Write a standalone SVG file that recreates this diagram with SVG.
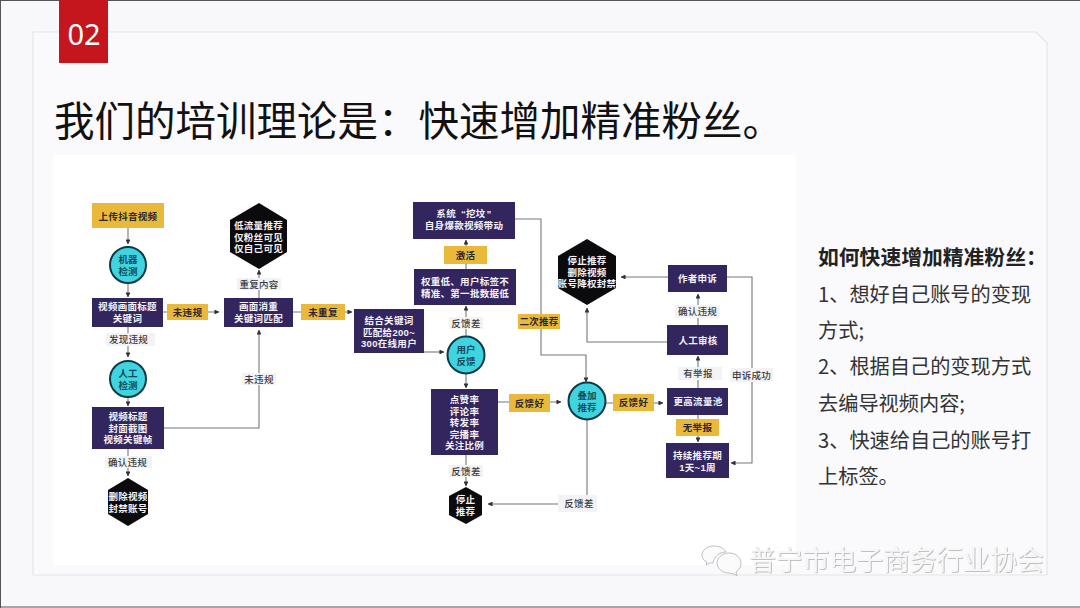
<svg xmlns="http://www.w3.org/2000/svg" width="1080" height="608" viewBox="0 0 1080 608">
<style>
text{font-family:"Noto Sans CJK SC","Noto Sans",sans-serif;text-anchor:middle}
.box{fill:#33265f}
.tag{fill:#e8b93a}
.lab{fill:#f3f3f5}
.cir{fill:#3fd4e0;stroke:#0d3a48;stroke-width:2}
.hex{fill:#0b0a0d}
.w,.d,.c,.g{font-family:"Liberation Sans","Noto Sans CJK SC",sans-serif;font-size:9.500px;font-weight:700}
.w{fill:#f4f2f7;letter-spacing:.3px}
.d{fill:#2c2733;letter-spacing:.3px}
.c{fill:#0f4a5c}
.g{fill:#3a3a3e;font-weight:500;letter-spacing:.3px}
.ln{fill:none;stroke:#77777c;stroke-width:1.100;marker-end:url(#a)}
.side{fill:#333;font-size:20.200px;text-anchor:start}
</style>
<defs>
<marker id="a" viewBox="0 0 6 6" refX="5.500" refY="3" markerWidth="4.500" markerHeight="4.500" orient="auto"><path d="M0 0L6 3L0 6z" fill="#333"/></marker>
<filter id="emb" x="-5%" y="-20%" width="110%" height="140%"><feDropShadow dx="0.7" dy="0.7" stdDeviation="0.3" flood-color="#a8a8a8"/></filter>
</defs>

<rect width="1080" height="608" fill="#f8f8fa"/>
<path d="M0 .5H1080M.5 0V608M0 607H1080" fill="none" stroke="#555" stroke-width="1"/>
<path d="M33 32H1036L1047 43V575H33z" fill="#fafafc" stroke="#e6e6e8" stroke-width="1.200"/>
<rect x="53" y="155" width="743" height="410" fill="#fff"/>

<g id="badge"><rect x="59" y="0" width="49" height="63" fill="#c4161c"/><text x="84" y="45" fill="#fff" font-size="29" style="font-family:'Noto Sans',sans-serif">02</text></g>
<text id="title" x="54" y="136" font-size="40.500" fill="#111" style="text-anchor:start">我们的培训理论是：快速增加精准粉丝。</text>

<g id="connectors">
<path class="ln" d="M128 228V244"/>
<path class="ln" d="M128 283V297"/>
<path class="ln" d="M163 312H219"/>
<path class="ln" d="M293 312H352"/>
<path class="ln" d="M259 298V270"/>
<path class="ln" d="M128 327V357"/>
<path class="ln" d="M128 397V406"/>
<path class="ln" d="M128 449V476"/>
<path class="ln" d="M164 428H259V330"/>
<path class="ln" d="M424 352H444"/>
<path class="ln" d="M466 336V306"/>
<path class="ln" d="M466 269V240"/>
<path class="ln" d="M466 374V388"/>
<path class="ln" d="M498 402H561"/>
<path class="ln" d="M466 455V486"/>
<path class="ln" d="M515 219H541V355H586V382"/>
<path class="ln" d="M587 420V504H488"/>
<path class="ln" d="M606 403H663"/>
<path class="ln" d="M698 388V356"/>
<path class="ln" d="M698 325V294"/>
<path class="ln" d="M698 415V442"/>
<path class="ln" d="M668 277H621"/>
<path class="ln" d="M667 342H587V308"/>
<path class="ln" d="M727 277H752V463H731"/>

<rect class="tag" x="167" y="304" width="41" height="16"/><text class="d" x="187.500" y="315.500">未违规</text>
<rect class="tag" x="301" y="304" width="44" height="16"/><text class="d" x="323" y="315.500">未重复</text>
<rect class="tag" x="444" y="246" width="43" height="18"/><text class="d" x="465.500" y="258.500">激活</text>
<rect class="tag" x="518" y="314" width="42" height="15"/><text class="d" x="539" y="325">二次推荐</text>
<rect class="tag" x="509" y="394" width="41" height="18"/><text class="d" x="529.500" y="406.500">反馈好</text>
<rect class="tag" x="613" y="394" width="41" height="17"/><text class="d" x="633.500" y="406">反馈好</text>
<rect class="tag" x="676" y="419" width="43" height="17"/><text class="d" x="697.500" y="431">无举报</text>

<rect class="lab" x="237" y="278" width="44" height="12"/><text class="g" x="259" y="287.500">重复内容</text>
<rect class="lab" x="106" y="333" width="49" height="13"/><text class="g" x="128.500" y="342.500">发现违规</text>
<rect class="lab" x="242" y="373" width="34" height="12"/><text class="g" x="259" y="382.500">未违规</text>
<rect class="lab" x="105" y="456" width="47" height="12"/><text class="g" x="127.500" y="465.500">确认违规</text>
<rect class="lab" x="449" y="317" width="34" height="12"/><text class="g" x="466" y="326.500">反馈差</text>
<rect class="lab" x="449" y="465" width="34" height="12"/><text class="g" x="466" y="474.500">反馈差</text>
<rect class="lab" x="558" y="495" width="39" height="17"/><text class="g" x="579" y="506.500">反馈差</text>
<rect class="lab" x="675" y="305" width="45" height="13"/><text class="g" x="697.500" y="315">确认违规</text>
<rect class="lab" x="678" y="367" width="44" height="13"/><text class="g" x="698" y="377">有举报</text>
<rect class="lab" x="730" y="368" width="43" height="14"/><text class="g" x="751.500" y="378.500">申诉成功</text>
</g>

<g id="n-upload"><rect class="tag" x="92" y="203" width="72" height="25"/><text class="d" x="128" y="219.500">上传抖音视频</text></g>
<g id="n-machine"><circle class="cir" cx="128" cy="265" r="18"/><text class="c" x="128" y="263">机器</text><text class="c" x="128" y="275">检测</text></g>
<g id="n-frame"><rect class="box" x="92" y="298" width="71" height="29"/><text class="w" x="127.500" y="310">视频画面标题</text><text class="w" x="127.500" y="322">关键词</text></g>
<g id="n-human"><circle class="cir" cx="128" cy="379" r="18"/><text class="c" x="128" y="377">人工</text><text class="c" x="128" y="388.500">检测</text></g>
<g id="n-cover"><rect class="box" x="92" y="407" width="72" height="42"/><text class="w" x="128" y="420">视频标题</text><text class="w" x="128" y="431.500">封面截图</text><text class="w" x="128" y="443">视频关键帧</text></g>
<g id="n-delete"><path class="hex" d="M128 478L148 490V514L128 526L108 514V490z"/><text class="w" x="128" y="500">删除视频</text><text class="w" x="128" y="512">封禁账号</text></g>
<g id="n-lowflow"><path class="hex" d="M259 203L287 220V252L259 269L230 252V220z"/><text class="w" x="258.500" y="229">低流量推荐</text><text class="w" x="258.500" y="240.500">仅粉丝可见</text><text class="w" x="258.500" y="252">仅自己可见</text></g>
<g id="n-dedupe"><rect class="box" x="224" y="298" width="69" height="29"/><text class="w" x="258.500" y="310">画面消重</text><text class="w" x="258.500" y="322">关键词匹配</text></g>
<g id="n-match"><rect class="box" x="354" y="309" width="70" height="44"/><text class="w" x="389" y="324">结合关键词</text><text class="w" x="389" y="335.500">匹配给200~</text><text class="w" x="389" y="347">300在线用户</text></g>
<g id="n-dig"><rect class="box" x="413" y="202" width="102" height="37"/><text class="w" x="464" y="217">系统<tspan dx="5">“</tspan>挖坟<tspan dx="1">”</tspan></text><text class="w" x="464" y="229">自身爆款视频带动</text></g>
<g id="n-weight"><rect class="box" x="414" y="269" width="102" height="36"/><text class="w" x="465" y="285">权重低、用户标签不</text><text class="w" x="465" y="297">精准、第一批数据低</text></g>
<g id="n-feedback"><circle class="cir" cx="466" cy="355" r="18.500"/><text class="c" x="466" y="353">用户</text><text class="c" x="466" y="364.500">反馈</text></g>
<g id="n-rates"><rect class="box" x="431" y="389" width="67" height="66"/><text class="w" x="464.500" y="403">点赞率</text><text class="w" x="464.500" y="414.500">评论率</text><text class="w" x="464.500" y="426">转发率</text><text class="w" x="464.500" y="437.500">完播率</text><text class="w" x="464.500" y="449">关注比例</text></g>
<g id="n-stop"><path class="hex" d="M466 487L482 496V515L466 524L449 515V496z"/><text class="w" x="465.500" y="503">停止</text><text class="w" x="465.500" y="514.500">推荐</text></g>
<g id="n-stack"><circle class="cir" cx="587" cy="401" r="18.500"/><text class="c" x="587" y="399">叠加</text><text class="c" x="587" y="410.500">推荐</text></g>
<g id="n-ban"><path class="hex" d="M587 239L616 256V288L587 305L558 288V256z"/><text class="w" x="587" y="264">停止推荐</text><text class="w" x="587" y="275.500">删除视频</text><text class="w" x="587" y="287">账号降权封禁</text></g>
<g id="n-appeal"><rect class="box" x="668" y="265" width="59" height="27"/><text class="w" x="697.500" y="282">作者申诉</text></g>
<g id="n-review"><rect class="box" x="667" y="325" width="61" height="30"/><text class="w" x="698" y="343.500">人工审核</text></g>
<g id="n-pool"><rect class="box" x="667" y="388" width="61" height="27"/><text class="w" x="698" y="405">更高流量池</text></g>
<g id="n-period"><rect class="box" x="666" y="443" width="63" height="35"/><text class="w" x="697.500" y="459">持续推荐期</text><text class="w" x="697.500" y="471">1天~1周</text></g>

<g id="side">
<text x="818" y="265" class="side" style="font-weight:700;font-size:20.800px;fill:#222">如何快速增加精准粉丝：</text>
<text x="818" y="302" class="side">1、想好自己账号的变现</text>
<text x="818" y="338" class="side">方式;</text>
<text x="818" y="374" class="side">2、根据自己的变现方式</text>
<text x="818" y="411" class="side">去编导视频内容;</text>
<text x="818" y="448" class="side">3、快速给自己的账号打</text>
<text x="818" y="484" class="side">上标签。</text>
</g>

<g id="watermark">
<g fill="#fbfbfb" stroke="#b0b0b0" stroke-width=".8">
<path d="M714 546c-7 0-12 4-12 9 0 3 2 6 5 7l-1 3 4-2h3c1-6 6-11 13-11-2-4-7-6-12-6z"/>
<path d="M729 553c-7 0-12 5-12 10s5 10 12 10l5 1 3 2-1-4c3-2 5-5 5-9 0-5-5-10-12-10z"/>
</g>
<text x="749" y="570" font-size="26.800" fill="#f7f7f7" filter="url(#emb)" style="text-anchor:start">普宁市电子商务行业协会</text>
</g>
</svg>
